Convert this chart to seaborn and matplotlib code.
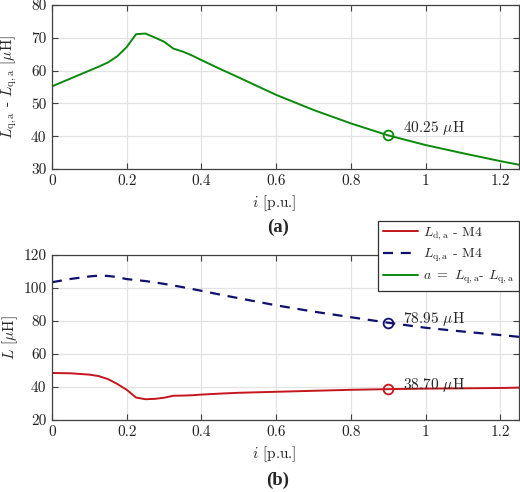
import numpy as np
import pandas as pd
import matplotlib
matplotlib.use("Agg")
import matplotlib.pyplot as plt
from matplotlib.lines import Line2D
from matplotlib.ticker import FuncFormatter
import seaborn as sns

# ---- data ----
i_pu = [0, 0.05, 0.1, 0.125, 0.15, 0.175, 0.2, 0.225, 0.25, 0.275, 0.3, 0.325,
        0.35, 0.375, 0.4, 0.45, 0.5, 0.6, 0.7, 0.8, 0.9, 1.0, 1.1, 1.2, 1.25]
diff_a = [55.2, 57.6, 60.0, 61.2, 62.5, 64.4, 67.2, 71.1, 71.3, 70.1, 68.8, 66.7,
          65.8, 64.6, 63.2, 60.5, 57.9, 52.6, 48.0, 43.9, 40.25, 37.3, 34.8, 32.4, 31.3]
Lq_M4 = [103.5, 105.5, 107.0, 107.5, 107.3, 106.6, 105.4, 104.8, 104.2, 103.4, 102.5,
         101.5, 100.5, 99.4, 98.3, 96.0, 93.8, 89.5, 85.7, 82.3, 78.95, 75.9, 73.6, 71.5, 70.4]
Ld_M4 = [48.5, 48.3, 47.5, 46.6, 44.8, 41.8, 38.3, 33.6, 32.6, 32.8, 33.5, 34.7,
         34.8, 35.0, 35.4, 36.0, 36.5, 37.1, 37.7, 38.3, 38.70, 39.0, 39.2, 39.4, 39.6]

mark_i = [0.9]
mark_diff = [40.25]
mark_Lq = [78.95]
mark_Ld = [38.70]

x_ticks = [0, 0.2, 0.4, 0.6, 0.8, 1.0, 1.2]
y_ticks_a = [30, 40, 50, 60, 70, 80]
y_ticks_b = [20, 40, 60, 80, 100, 120]

df = pd.DataFrame({"i": i_pu, "diff": diff_a, "Lq": Lq_M4, "Ld": Ld_M4})

# ---- style ----
sns.set_theme(style="ticks")
plt.rcParams["font.family"] = ["cmr10", "DejaVu Serif"]
plt.rcParams["mathtext.fontset"] = "cm"
plt.rcParams["axes.unicode_minus"] = False

GREEN = "#0a8a0a"
RED = "#c4161c"
NAVY = "#10106e"
SPINE = "#404040"
FS = 11

fig = plt.figure(figsize=(5.2, 4.92), dpi=100)
ax1 = fig.add_axes([52 / 520, 1 - 169 / 492, 467 / 520, 164 / 492])
ax2 = fig.add_axes([52 / 520, 1 - 420 / 492, 467 / 520, 165 / 492])

sns.lineplot(data=df, x="i", y="diff", ax=ax1, color=GREEN, lw=1.4)
ax1.plot(mark_i, mark_diff, "o", ms=7, mfc="none", mec=GREEN, mew=1.3)
ax1.text(0.94, mark_diff[0] + 2.2, f"{mark_diff[0]:.2f} $\\mu$H", fontsize=FS, va="center")

sns.lineplot(data=df, x="i", y="Ld", ax=ax2, color=RED, lw=1.4)
sns.lineplot(data=df, x="i", y="Lq", ax=ax2, color=NAVY, lw=1.6)
ax2.lines[1].set_dashes([4.5, 3.5])
ax2.plot(mark_i, mark_Lq, "o", ms=7, mfc="none", mec=NAVY, mew=1.3)
ax2.plot(mark_i, mark_Ld, "o", ms=7, mfc="none", mec=RED, mew=1.3)
ax2.text(0.94, mark_Lq[0] + 2.3, f"{mark_Lq[0]:.2f} $\\mu$H", fontsize=FS, va="center")
ax2.text(0.94, mark_Ld[0] + 2.7, f"{mark_Ld[0]:.2f} $\\mu$H", fontsize=FS, va="center")

fmt = FuncFormatter(lambda v, p: f"{v:g}")
for ax, yt, hpx in ((ax1, y_ticks_a, 164), (ax2, y_ticks_b, 165)):
    ax.set_xlim(0, 1.25)
    ax.set_ylim(yt[0], yt[-1])
    ax.set_xticks(x_ticks)
    ax.set_yticks(yt)
    ax.xaxis.set_major_formatter(fmt)
    ax.yaxis.set_major_formatter(fmt)
    ax.grid(True, color="#e3e3e3", lw=0.9)
    ax.set_axisbelow(True)
    for s in ax.spines.values():
        s.set_visible(True)
        s.set_color(SPINE)
        s.set_linewidth(0.9)
    ax.tick_params(direction="in", top=True, right=True, length=4, width=0.8,
                   color=SPINE, labelsize=FS, labelcolor="#222222", pad=4)
    ax.set_xlabel("$i$ [p.u.]", fontsize=FS)
    ax.xaxis.label.set_va("center")
    ax.xaxis.set_label_coords(0.476, -34.5 / hpx)

ax1.set_ylabel(r"$L_{\mathrm{q,a}}$ - $L_{\mathrm{q,a}}$ [$\mu$H]", fontsize=FS)
ax1.yaxis.label.set_va("center")
ax1.yaxis.set_label_coords(-43 / 467, 0.5)
ax2.set_ylabel(r"$L$ [$\mu$H]", fontsize=FS)
ax2.yaxis.label.set_va("center")
ax2.yaxis.set_label_coords(-42 / 467, 0.5)

fig.text(278 / 520, 1 - 227 / 492, "(a)", fontsize=13.5, fontweight="bold",
         family=["Liberation Serif"], ha="center", va="center")
fig.text(278 / 520, 1 - 480 / 492, "(b)", fontsize=13.5, fontweight="bold",
         family=["Liberation Serif"], ha="center", va="center")

handles = [Line2D([], [], color=RED, lw=1.4),
           Line2D([], [], color=NAVY, lw=1.6, dashes=[4.5, 3.5]),
           Line2D([], [], color=GREEN, lw=1.4)]
labels = [r"$L_{\mathrm{d,a}}$ - M4", r"$L_{\mathrm{q,a}}$ - M4",
          r"$a\ =\ L_{\mathrm{q,a}}$- $L_{\mathrm{q,a}}$"]
leg = fig.legend(handles, labels, loc="upper right",
                 bbox_to_anchor=(519 / 520, 1 - 220.5 / 492), fontsize=10,
                 frameon=True, fancybox=False, framealpha=1, edgecolor="#303030",
                 borderpad=0.35, labelspacing=0.35, handlelength=2.5,
                 handletextpad=0.4, borderaxespad=0)
leg.get_frame().set_linewidth(0.9)

fig.savefig("out.png", dpi=100)
